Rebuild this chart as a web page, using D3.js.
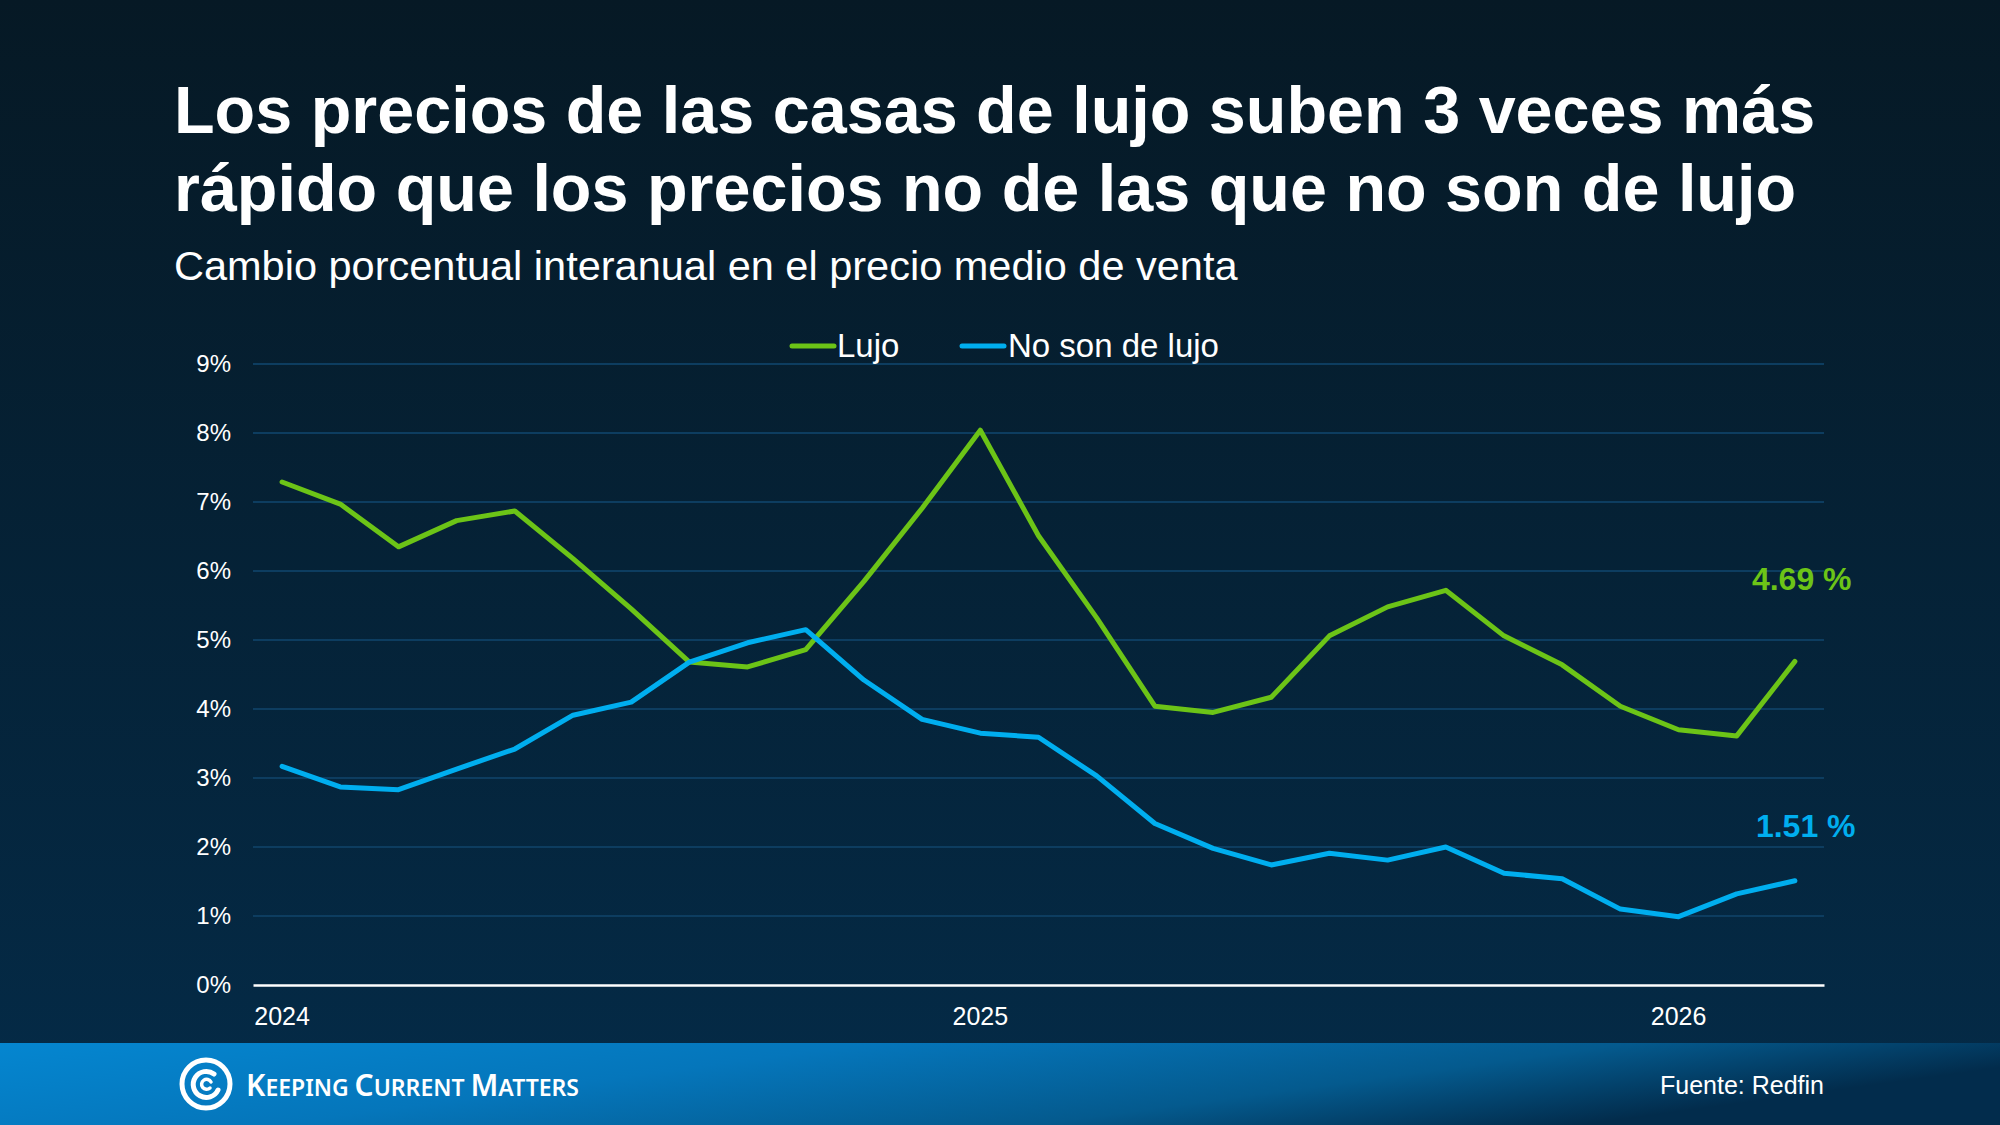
<!DOCTYPE html>
<html>
<head>
<meta charset="utf-8">
<script src="https://cdn.jsdelivr.net/npm/d3@7"></script>
<style>
  html, body { margin: 0; padding: 0; background: #061a27; }
  svg { display: block; font-family: "Liberation Sans", Arial, sans-serif; }
</style>
</head>
<body>
<div id="chart"></div>
<script>
// months from Jan 2024 to Mar 2026
var months = [
  "2024-01", "2024-02", "2024-03", "2024-04", "2024-05", "2024-06",
  "2024-07", "2024-08", "2024-09", "2024-10", "2024-11", "2024-12",
  "2025-01", "2025-02", "2025-03", "2025-04", "2025-05", "2025-06",
  "2025-07", "2025-08", "2025-09", "2025-10", "2025-11", "2025-12",
  "2026-01", "2026-02", "2026-03"
];

// year over year change, luxury homes (%)
var lujo = [
  7.29, 6.97, 6.35, 6.73, 6.87, 6.18, 5.45, 4.68, 4.61, 4.86, 5.85, 6.91,
  8.04, 6.51, 5.32, 4.04, 3.95, 4.17, 5.06, 5.48, 5.72, 5.06, 4.64, 4.04,
  3.70, 3.61, 4.69
];

// year over year change, non luxury homes (%)
var noLujo = [
  3.17, 2.87, 2.83, 3.13, 3.42, 3.91, 4.10, 4.68, 4.96, 5.15, 4.42, 3.85,
  3.65, 3.59, 3.03, 2.34, 1.98, 1.74, 1.91, 1.81, 2.00, 1.62, 1.54, 1.10,
  0.99, 1.32, 1.51
];

var yTicks = [0, 1, 2, 3, 4, 5, 6, 7, 8, 9];
var xTickMonths = ["2024-01", "2025-01", "2026-01"];

var series = [
  { name: "Lujo", values: lujo, color: "#6cc417", label: "4.69 %" },
  { name: "No son de lujo", values: noLujo, color: "#00aeef", label: "1.51 %" }
];

var width = 2000, height = 1125;
var margin = { top: 364, right: 176, bottom: 140, left: 253 };
var plotW = width - margin.left - margin.right,
  plotH = height - margin.top - margin.bottom;

var svg = d3.select("#chart")
  .append("svg")
  .attr("width", width)
  .attr("height", height);

// gradients for background and footer
var defs = svg.append("defs");
var bg = defs.append("linearGradient")
  .attr("id", "bg")
  .attr("x1", 0).attr("y1", 0).attr("x2", 0).attr("y2", 1);
bg.append("stop").attr("offset", "0%").attr("stop-color", "#061925");
bg.append("stop").attr("offset", "100%").attr("stop-color", "#042b48");

var foot = defs.append("linearGradient")
  .attr("id", "foot")
  .attr("x1", 0).attr("y1", 0).attr("x2", 1).attr("y2", 0.3);
foot.append("stop").attr("offset", "0%").attr("stop-color", "#0586d0");
foot.append("stop").attr("offset", "40%").attr("stop-color", "#0576bb");
foot.append("stop").attr("offset", "75%").attr("stop-color", "#045a8e");
foot.append("stop").attr("offset", "100%").attr("stop-color", "#022c4c");

svg.append("rect")
  .attr("width", width)
  .attr("height", height)
  .attr("fill", "url(#bg)");

// title
var title = svg.append("text")
  .attr("x", 174)
  .attr("fill", "#ffffff")
  .style("font-weight", "bold")
  .style("font-size", "66.5px");
title.append("tspan").attr("x", 174).attr("y", 133)
  .text("Los precios de las casas de lujo suben 3 veces más");
title.append("tspan").attr("x", 174).attr("y", 211)
  .text("rápido que los precios no de las que no son de lujo");

svg.append("text")
  .attr("x", 174)
  .attr("y", 280)
  .attr("fill", "#ffffff")
  .style("font-size", "41.5px")
  .text("Cambio porcentual interanual en el precio medio de venta");

var g = svg.append("g")
  .attr("transform", "translate(" + margin.left + "," + margin.top + ")");

// scales
var x = d3.scaleBand()
  .domain(months)
  .range([0, plotW]);

var y = d3.scaleLinear()
  .domain([0, 9])
  .range([plotH, 0]);

// gridlines
g.append("g")
  .selectAll("line")
  .data(yTicks.filter(function (d) { return d > 0; }))
  .enter()
  .append("line")
  .attr("x1", 0)
  .attr("x2", plotW)
  .attr("y1", function (d) { return y(d); })
  .attr("y2", function (d) { return y(d); })
  .attr("stroke", "#0d3d60")
  .attr("stroke-width", 2);

// y axis labels
var yAxis = g.append("g")
  .call(d3.axisLeft(y).tickValues(yTicks).tickSize(0).tickPadding(22)
    .tickFormat(function (d) { return d + "%"; }));
yAxis.select(".domain").remove();
yAxis.selectAll("text")
  .attr("fill", "#ffffff")
  .style("font-size", "24px")
  .style("font-family", "Liberation Sans, Arial, sans-serif");

// x axis
var xAxis = g.append("g")
  .attr("transform", "translate(0," + plotH + ")")
  .call(d3.axisBottom(x).tickValues(xTickMonths).tickSize(0).tickPadding(22)
    .tickFormat(function (d) { return d.slice(0, 4); }));
xAxis.select(".domain")
  .attr("stroke", "#ffffff")
  .attr("stroke-width", 2.5);
xAxis.selectAll("text")
  .attr("fill", "#ffffff")
  .style("font-size", "25px")
  .style("font-family", "Liberation Sans, Arial, sans-serif");

// lines
var line = d3.line()
  .x(function (d, i) { return x(months[i]) + x.bandwidth() / 2; })
  .y(function (d) { return y(d); });

g.selectAll(".series")
  .data(series)
  .enter()
  .append("path")
  .attr("class", "series")
  .attr("d", function (d) { return line(d.values); })
  .attr("fill", "none")
  .attr("stroke", function (d) { return d.color; })
  .attr("stroke-width", 5)
  .attr("stroke-linejoin", "round")
  .attr("stroke-linecap", "round");

// end value labels
var lastX = x(months[months.length - 1]) + x.bandwidth() / 2;
g.selectAll(".end-label")
  .data(series)
  .enter()
  .append("text")
  .attr("class", "end-label")
  .attr("x", function (d, i) { return i === 0 ? lastX - 43 : lastX - 39; })
  .attr("y", function (d, i) { return y(d.values[d.values.length - 1]) + (i === 0 ? -71 : -44); })
  .attr("fill", function (d) { return d.color; })
  .style("font-weight", "bold")
  .style("font-size", "32px")
  .text(function (d) { return d.label; });

// legend
var legendX = [790, 960];
var legend = svg.append("g")
  .selectAll("g")
  .data(series)
  .enter()
  .append("g")
  .attr("transform", function (d, i) { return "translate(" + legendX[i] + ",346)"; });
legend.append("line")
  .attr("x1", 2).attr("x2", 44)
  .attr("stroke", function (d) { return d.color; })
  .attr("stroke-width", 5)
  .attr("stroke-linecap", "round");
legend.append("text")
  .attr("x", function (d, i) { return i === 0 ? 47 : 48; })
  .attr("y", 11)
  .attr("fill", "#ffffff")
  .style("font-size", "33px")
  .text(function (d) { return d.name; });

// footer band
svg.append("rect")
  .attr("y", 1043)
  .attr("width", width)
  .attr("height", height - 1043)
  .attr("fill", "url(#foot)");

// logo swirl
var logo = svg.append("g").attr("transform", "translate(206,1084)");
logo.append("circle").attr("r", 24).attr("fill", "none")
  .attr("stroke", "#ffffff").attr("stroke-width", 5);
logo.append("path")
  .attr("d", "M 8 -10 A 13 13 0 1 0 12 6")
  .attr("fill", "none").attr("stroke", "#ffffff").attr("stroke-width", 5)
  .attr("stroke-linecap", "round");
logo.append("path")
  .attr("d", "M 5 -2 A 5 5 0 1 0 4 4")
  .attr("fill", "none").attr("stroke", "#ffffff").attr("stroke-width", 3.5)
  .attr("stroke-linecap", "round");

var brand = svg.append("text")
  .attr("x", 246)
  .attr("y", 1096)
  .attr("fill", "#ffffff")
  .style("font-family", "Noto Sans, Open Sans, sans-serif")
  .style("font-weight", "600")
  .attr("textLength", 333)
  .attr("lengthAdjust", "spacingAndGlyphs");
[["K", 30], ["EEPING ", 23], ["C", 30], ["URRENT ", 23], ["M", 30], ["ATTERS", 23]].forEach(function (p) {
  brand.append("tspan").style("font-size", p[1] + "px").text(p[0]);
});

svg.append("text")
  .attr("x", 1824)
  .attr("y", 1094)
  .attr("text-anchor", "end")
  .attr("fill", "#ffffff")
  .style("font-size", "25px")
  .text("Fuente: Redfin");
</script>
</body>
</html>
